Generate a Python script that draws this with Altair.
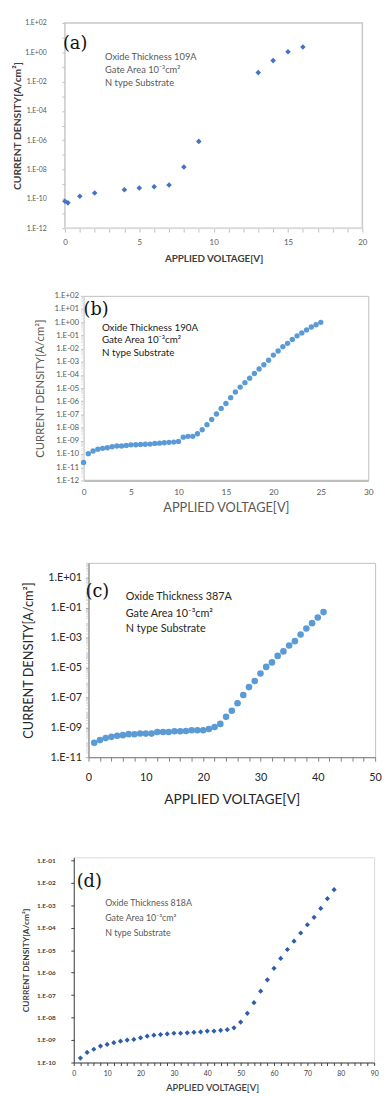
import json
import pandas as pd
import altair as alt

# ---------------- data ----------------
# (a) Oxide 109A
A_V = [0, 0.2, 1, 2, 4, 5, 6, 7, 8, 9, 13, 14, 15, 16]
A_J = [6.8e-11, 5.3e-11, 1.5e-10, 2.5e-10, 4.1e-10, 5.4e-10, 6.6e-10, 8.9e-10,
       1.5e-8, 8.3e-7, 4.1e-2, 0.27, 1.1, 2.3]
# (b) Oxide 190A
B_V = [0, 0.5, 1, 1.5, 2, 2.5, 3, 3.5, 4, 4.5, 5, 5.5, 6, 6.5, 7, 7.5, 8, 8.5, 9, 9.5,
       10, 10.5, 11, 11.5, 12, 12.5, 13, 13.5, 14, 14.5, 15, 15.5, 16, 16.5, 17, 17.5,
       18, 18.5, 19, 19.5, 20, 20.5, 21, 21.5, 22, 22.5, 23, 23.5, 24, 24.5, 25]
B_J = [2.3e-11, 1.07e-10, 1.7e-10, 2.3e-10, 2.7e-10, 3.0e-10, 3.6e-10, 4.1e-10, 4.1e-10,
       4.5e-10, 5.0e-10, 5.1e-10, 5.4e-10, 5.5e-10, 5.7e-10, 6.4e-10, 6.7e-10, 7.2e-10,
       7.7e-10, 8.1e-10, 9.1e-10, 1.9e-9, 2.2e-9, 2.2e-9, 3.5e-9, 7e-9, 1.7e-8, 4.2e-8,
       1.1e-7, 2.9e-7, 6.9e-7, 1.9e-6, 5.1e-6, 1.2e-5, 2.6e-5, 5.7e-5, 1.3e-4, 2.8e-4,
       6e-4, 1.3e-3, 3.2e-3, 6.6e-3, 1.4e-2, 2.5e-2, 4.9e-2, 9.3e-2, 0.155, 0.26, 0.43,
       0.65, 0.98]
# (c) Oxide 387A
C_V = [1, 2, 3, 4, 5, 6, 7, 8, 9, 10, 11, 12, 13, 14, 15, 16, 17, 18, 19, 20, 21,
       22, 23, 24, 25, 26, 27, 28, 29, 30, 31, 32, 33, 34, 35, 36, 37, 38, 39, 40, 41]
C_J = [9.3e-11, 1.4e-10, 1.9e-10, 2.3e-10, 2.7e-10, 3.0e-10, 3.5e-10, 3.4e-10, 3.9e-10,
       3.8e-10, 3.8e-10, 4.9e-10, 4.9e-10, 4.9e-10, 5.5e-10, 5.5e-10, 5.7e-10, 6.3e-10,
       6.3e-10, 6.3e-10, 7.8e-10, 1.05e-9, 1.7e-9, 5e-9, 1.3e-8, 4.1e-8, 1.45e-7, 4.9e-7,
       1.26e-6, 4e-6, 1.1e-5, 2.2e-5, 6e-5, 1.2e-4, 3e-4, 5.8e-4, 1.6e-3, 4.1e-3, 9.3e-3,
       2.2e-2, 5.1e-2]
# (d) Oxide 818A
D_V = [2, 4, 6, 8, 10, 12, 14, 16, 18, 20, 22, 24, 26, 28, 30, 32, 34, 36, 38, 40,
       42, 44, 46, 48, 50, 52, 54, 56, 58, 60, 62, 64, 66, 68, 70, 72, 74, 76, 78]
D_J = [1.58e-10, 2.8e-10, 3.9e-10, 5.4e-10, 6.4e-10, 7.6e-10, 8.9e-10, 1.0e-9, 1.07e-9,
       1.26e-9, 1.48e-9, 1.65e-9, 1.75e-9, 1.87e-9, 2.0e-9, 2.0e-9, 2.1e-9, 2.2e-9,
       2.3e-9, 2.5e-9, 2.5e-9, 2.7e-9, 2.9e-9, 3.5e-9, 6.3e-9, 1.55e-8, 4.6e-8, 1.5e-7,
       4.8e-7, 1.55e-6, 4.3e-6, 1.07e-5, 2.5e-5, 5.8e-5, 1.35e-4, 2.9e-4, 7.2e-4,
       1.96e-3, 4.9e-3]

# tick labels
A_YT = [1e-12, 1e-10, 1e-08, 1e-06, 1e-04, 1e-02, 1e0, 1e2]
A_YL = ["1.E-12", "1.E-10", "1.E-08", "1.E-06", "1.E-04", "1.E-02", "1.E+00", "1.E+02"]
A_XT = [0, 5, 10, 15, 20]
A_XL = ["0", "5", "10", "15", "20"]

B_YT = [1e-12, 1e-11, 1e-10, 1e-09, 1e-08, 1e-07, 1e-06, 1e-05, 1e-04, 1e-03, 1e-02,
        1e-01, 1e0, 1e1, 1e2]
B_YL = ["1.E-12", "1.E-11", "1.E-10", "1.E-09", "1.E-08", "1.E-07", "1.E-06", "1.E-05",
        "1.E-04", "1.E-03", "1.E-02", "1.E-01", "1.E+00", "1.E+01", "1.E+02"]
B_XT = [0, 5, 10, 15, 20, 25, 30]
B_XL = ["0", "5", "10", "15", "20", "25", "30"]

C_YT = [1e-11, 1e-09, 1e-07, 1e-05, 1e-03, 1e-01, 1e1]
C_YL = ["1.E-11", "1.E-09", "1.E-07", "1.E-05", "1.E-03", "1.E-01", "1.E+01"]
C_XT = [0, 10, 20, 30, 40, 50]
C_XL = ["0", "10", "20", "30", "40", "50"]

D_YT = [1e-10, 1e-09, 1e-08, 1e-07, 1e-06, 1e-05, 1e-04, 1e-03, 1e-02, 1e-01]
D_YL = ["1.E-10", "1.E-09", "1.E-08", "1.E-07", "1.E-06", "1.E-05", "1.E-04", "1.E-03",
        "1.E-02", "1.E-01"]
D_XT = [0, 10, 20, 30, 40, 50, 60, 70, 80, 90]
D_XL = ["0", "10", "20", "30", "40", "50", "60", "70", "80", "90"]

A_NOTES = ["Oxide Thickness  109A", "Gate Area 10\u207b\u00b3cm\u00b2", "N type Substrate"]
B_NOTES = ["Oxide Thickness 190A", "Gate Area 10\u207b\u00b3cm\u00b2", "N type Substrate"]
C_NOTES = ["Oxide Thickness 387A", "Gate Area 10\u207b\u00b3cm\u00b2", "N type Substrate"]
D_NOTES = ["Oxide Thickness 818A", "Gate Area 10\u207b\u00b3cm\u00b2", "N type Substrate"]

Y_TITLE = "CURRENT DENSITY[A/cm\u00b2]"
X_TITLE = "APPLIED VOLTAGE[V]"


# ---------------- helpers ----------------
def lab_expr(vals, labs):
    v = json.dumps(vals)
    l = json.dumps(labs)
    return f"indexof({v}, datum.value) >= 0 ? {l}[indexof({v}, datum.value)] : ''"


def major_test(vals):
    return f"indexof({json.dumps(vals)}, datum.value) >= 0"


def decades(lo, hi):
    return [float(f"1e{e}") for e in range(lo, hi + 1)]


def minors(lo, hi):
    return [float(f"{m}e{e}") for e in range(lo, hi) for m in range(2, 10)]


def panel(V, J, xdom, ydom, W, H, xaxis, yaxis, mark, letter, letter_pos, letter_dx,
          notes, note_pos, note_style, frame):
    x = alt.X("V:Q", scale=alt.Scale(domain=xdom, nice=False, zero=False), axis=xaxis)
    y = alt.Y("J:Q", scale=alt.Scale(type="log", domain=ydom, nice=False), axis=yaxis)
    pts = alt.Chart(pd.DataFrame({"V": V, "J": J})).mark_point(**mark).encode(x=x, y=y)
    ndf = pd.DataFrame({"V": [note_pos[0]] * len(notes), "J": note_pos[1], "t": notes})
    txt = alt.Chart(ndf).mark_text(align="left", baseline="middle", **note_style).encode(
        x=x, y=y, text="t:N")
    ldf = pd.DataFrame({"V": [letter_pos[0]], "J": [letter_pos[1]], "t": [letter]})
    let = alt.Chart(ldf).mark_text(align="left", baseline="middle", font="DejaVu Serif",
                                   fontSize=18, color="#111111", dx=letter_dx).encode(
        x=x, y=y, text="t:N")
    return alt.layer(pts, txt, let).properties(
        width=W, height=H, view=alt.ViewBackground(**frame))


def spacer(w, h):
    return alt.Chart(pd.DataFrame({"s": [0]})).mark_point(opacity=0, size=1).properties(
        width=w, height=h, view=alt.ViewBackground(strokeWidth=0, strokeOpacity=0))


# ---------------- panel (a) ----------------
WA, HA = 303, 209
pa = panel(
    A_V, A_J, [0, 20], [1e-12, 1e2], WA, HA,
    alt.Axis(values=list(range(0, 21)), labelExpr=lab_expr(A_XT, A_XL), labelFlush=False,
             labelOverlap=False, labelAngle=0, labelFont="Lato", labelFontSize=8,
             labelColor="#595959", tickSize=4, tickColor="#bfbfbf", domainColor="#d9d9d9",
             labelPadding=7, title=X_TITLE, titleFont="Lato", titleFontSize=10,
             titleFontWeight="bold", titleColor="#404040", titleX=WA / 2, titleY=31,
             titleBaseline="middle", titleAlign="center", grid=False),
    alt.Axis(values=decades(-12, 2), labelExpr=lab_expr(A_YT, A_YL), labelOverlap=False,
             labelFont="Lato", labelFontSize=7, labelColor="#595959", tickSize=3,
             tickColor="#bfbfbf", domainColor="#d9d9d9", labelPadding=16, title=Y_TITLE,
             titleFont="Lato", titleFontSize=10.5, titleFontWeight="bold",
             titleColor="#404040", titleAngle=270, titleX=-48, titleY=HA / 2,
             titleBaseline="middle", titleAlign="center", grid=False),
    dict(shape="diamond", filled=True, size=32, color="#4472c4", opacity=1),
    "(a)", (0, 3.4), -2,
    A_NOTES, (2.7, [0.46, 0.061, 0.0082]),
    dict(font="Lato", fontSize=9.5, color="#595959"),
    dict(stroke="#c8c8c8", strokeWidth=1.5),
)

# ---------------- panel (b) ----------------
WB, HB = 290, 188
B_TICKS = decades(-12, 2) + minors(-12, 2)
pb = panel(
    B_V, B_J, [0, 30], [1e-12, 1e2], WB, HB,
    alt.Axis(values=B_XT, labelExpr=lab_expr(B_XT, B_XL), labelFlush=False,
             labelOverlap=False, labelAngle=0, labelFont="Lato", labelFontSize=8.5,
             labelColor="#595959", tickSize=0, domainColor="#bfbfbf", domainWidth=2.5,
             labelPadding=7, title=X_TITLE, titleFont="Lato", titleFontSize=13,
             titleFontWeight="normal", titleColor="#595959", titleX=145, titleY=28,
             titleBaseline="middle", titleAlign="center", grid=False),
    alt.Axis(values=B_TICKS, labelExpr=lab_expr(B_YT, B_YL), labelOverlap=False,
             labelFont="Lato", labelFontSize=8, labelColor="#595959", tickSize=3,
             tickColor={"condition": {"test": major_test(B_YT), "value": "#bfbfbf"},
                        "value": "#e6e6e6"},
             domainColor="#d9d9d9", labelPadding=2, title=Y_TITLE, titleFont="Lato",
             titleFontSize=11.5, titleFontWeight="normal", titleColor="#595959",
             titleAngle=270, titleX=-44, titleY=HB / 2, titleBaseline="middle",
             titleAlign="center", grid=False),
    dict(shape="circle", filled=True, size=30, color="#5b9bd5", opacity=1),
    "(b)", (0, 9.0), 0,
    B_NOTES, (1.93, [0.39, 0.042, 0.0045]),
    dict(font="Lato", fontSize=10, color="#1a1a1a"),
    dict(stroke="#bfbfbf", strokeWidth=1),
)

# ---------------- panel (c) ----------------
WC, HC = 292, 198
C_TICKS = decades(-11, 2) + minors(-11, 2)
pc = panel(
    C_V, C_J, [0, 50], [1e-11, 1e2], WC, HC,
    alt.Axis(values=list(range(0, 51, 2)), labelExpr=lab_expr(C_XT, C_XL), labelFlush=False,
             labelOverlap=False, labelAngle=0, labelFont="Lato", labelFontSize=11,
             labelColor="#262626", tickSize=4, tickColor="#808080", domainColor="#808080",
             labelPadding=10.5, title=X_TITLE, titleFont="Lato", titleFontSize=14,
             titleFontWeight="normal", titleColor="#262626", titleX=146, titleY=43,
             titleBaseline="middle", titleAlign="center", grid=False),
    alt.Axis(values=C_TICKS, labelExpr=lab_expr(C_YT, C_YL), labelOverlap=False,
             labelFont="Lato", labelFontSize=11, labelColor="#262626", tickSize=3,
             tickColor={"condition": {"test": major_test(C_YT), "value": "#a6a6a6"},
                        "value": "#d9d9d9"},
             domainColor="#808080", labelPadding=4, title=Y_TITLE, titleFont="Lato",
             titleFontSize=13, titleFontWeight="normal", titleColor="#262626",
             titleAngle=270, titleX=-61, titleY=HC / 2, titleBaseline="middle",
             titleAlign="center", grid=False),
    dict(shape="circle", filled=True, size=45, color="#5b9bd5", opacity=1),
    "(c)", (0, 1.07), -3,
    C_NOTES, (6.5, [0.5, 0.039, 0.0035]),
    dict(font="Lato", fontSize=11, color="#262626"),
    dict(stroke="#bfbfbf", strokeWidth=1),
)

# ---------------- panel (d) ----------------
WD, HD = 306, 209
pd_ = panel(
    D_V, D_J, [0, 90], [1e-10, 0.135], WD, HD,
    alt.Axis(values=list(range(0, 91, 2)), labelExpr=lab_expr(D_XT, D_XL), labelFlush=False,
             labelOverlap=False, labelAngle=0, labelFont="Lato", labelFontSize=7,
             labelColor="#404040", tickSize=3, tickColor="#404040", domainColor="#404040",
             labelPadding=4.5, title=X_TITLE, titleFont="Lato", titleFontSize=9.5,
             titleFontWeight=600, titleColor="#404040", titleX=141, titleY=26,
             titleBaseline="middle", titleAlign="center", grid=False),
    alt.Axis(values=decades(-10, -1), labelExpr=lab_expr(D_YT, D_YL), labelOverlap=False,
             labelFont="Lato", labelFontSize=6.5, labelFontWeight="bold",
             labelColor="#404040", tickSize=3, tickColor="#404040", domainColor="#404040",
             labelPadding=16, title=Y_TITLE, titleFont="Lato", titleFontSize=8.5,
             titleFontWeight="bold", titleColor="#404040", titleAngle=270, titleX=-49,
             titleY=HD / 2, titleBaseline="middle", titleAlign="center", grid=False),
    dict(shape="diamond", filled=True, size=28, color="#2e5ea8", opacity=1),
    "(d)", (0, 0.011), 3,
    D_NOTES, (9.4, [1.2e-3, 2.6e-4, 5.9e-5]),
    dict(font="Lato", fontSize=9, color="#595959"),
    dict(stroke="#d9d9d9", strokeWidth=1),
)

row_a = alt.hconcat(spacer(3.75, 1), pa, spacing=0)
row_b = alt.hconcat(spacer(25.25, 1), pb, spacing=0)
row_c = alt.hconcat(spacer(13.5, 1), pc, spacing=0)
row_d = alt.hconcat(spacer(12.75, 1), pd_, spacing=0)

chart = alt.vconcat(
    row_a, spacer(1, 27), row_b, spacer(1, 41), row_c, spacer(1, 49.75), row_d,
    spacing=0,
).properties(
    padding={"left": 0, "top": 0, "right": 0, "bottom": 0},
    background="white",
).configure_axis(grid=False)

chart.save("out.html", embed_options={"renderer": "svg", "actions": False})
